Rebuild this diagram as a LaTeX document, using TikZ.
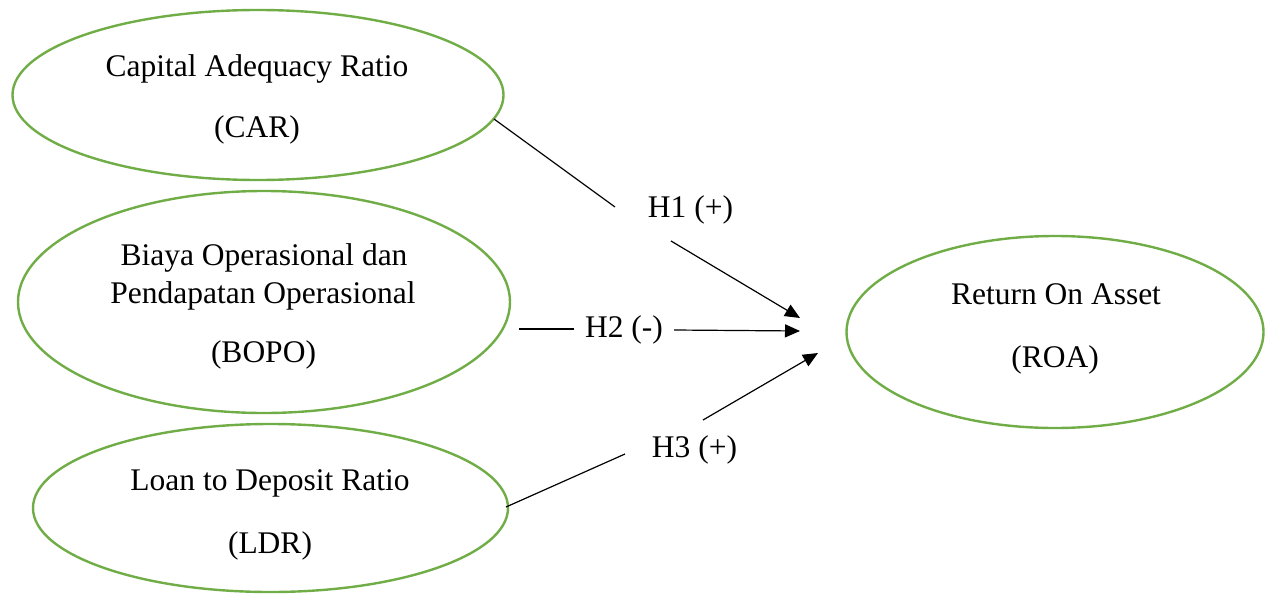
\documentclass[tikz,border=0pt]{standalone}
\usepackage{fontspec}
\setmainfont{Liberation Serif}
\usetikzlibrary{shapes.geometric,arrows.meta}
\definecolor{ovalgreen}{HTML}{70AD47}
\begin{document}
\begin{tikzpicture}[x=1pt,y=-1pt,
  oval/.style={ellipse,draw=ovalgreen,line width=2.4pt,inner sep=0pt},
  txt/.style={anchor=base,font=\fontsize{31.5}{38}\selectfont,inner sep=0pt},
  link/.style={line width=1.2pt},
  arr/.style={link,-{Triangle[length=15pt,width=13pt]}}]
\useasboundingbox (0,0) rectangle (1265,594);

% ovals
\node[oval,minimum width=491pt,minimum height=170pt] (car) at (258,95) {};
\node[oval,minimum width=492pt,minimum height=222pt] (bopo) at (264,302) {};
\node[oval,minimum width=475pt,minimum height=168pt] (ldr) at (270.5,508) {};
\node[oval,minimum width=417pt,minimum height=192pt] (roa) at (1055,332) {};

% oval texts
\node[txt] (car1) at (257,77) {Capital Adequacy Ratio};
\node[txt] (car2) at (257,137) {(CAR)};
\node[txt] (bopo1) at (264,265) {Biaya Operasional dan};
\node[txt] (bopo2) at (263,303) {Pendapatan Operasional};
\node[txt] (bopo3) at (263.5,362) {(BOPO)};
\node[txt] (ldr1) at (270,490) {Loan to Deposit Ratio};
\node[txt] (ldr2) at (270,553) {(LDR)};
\node[txt] (roa1) at (1056,304) {Return On Asset};
\node[txt] (roa2) at (1055,367) {(ROA)};

% hypothesis labels
\node[txt] (h1) at (690.5,217) {H1 (+)};
\node[txt] (h2) at (624,337) {H2 (-)};
\node[txt] (h3) at (694.5,457) {H3 (+)};

% connector end points
\coordinate (c1a) at (494,119);
\coordinate (c1b) at (615,207);
\coordinate (c1c) at (671,241);
\coordinate (c1d) at (800,318);
\coordinate (c2a) at (519,329);
\coordinate (c2b) at (574,329);
\coordinate (c2c) at (674,330);
\coordinate (c2d) at (800,331);
\coordinate (c3a) at (506,507);
\coordinate (c3b) at (625,454);
\coordinate (c3c) at (703,420);
\coordinate (c3d) at (818,353);

% connectors
\draw[link] (c1a) -- (c1b);
\draw[arr] (c1c) -- (c1d);
\draw[link] (c2a) -- (c2b);
\draw[arr] (c2c) -- (c2d);
\draw[link] (c3a) -- (c3b);
\draw[arr] (c3c) -- (c3d);
\end{tikzpicture}
\end{document}
